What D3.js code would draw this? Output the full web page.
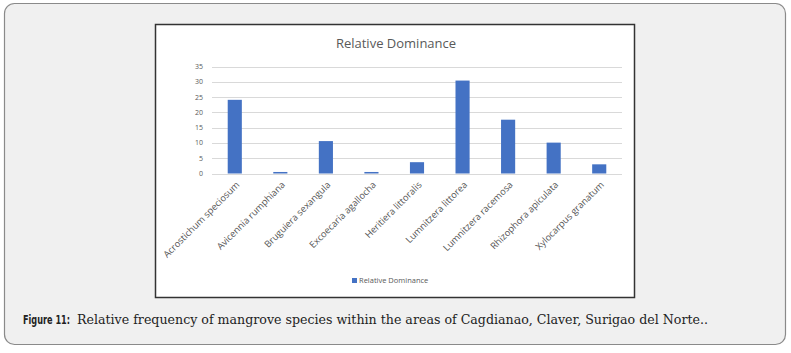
<!DOCTYPE html>
<html>
<head>
<meta charset="utf-8">
<script src="https://cdn.jsdelivr.net/npm/d3@7"></script>
<style>
  body { margin: 0; background: #fff; }
</style>
</head>
<body>
<script>
// chart data
var species = ["Acrostichum speciosum", "Avicennia rumphiana", "Bruguiera sexangula",
  "Excoecaria agallocha", "Heritiera littoralis", "Lumnitzera littorea",
  "Lumnitzera racemosa", "Rhizophora apiculata", "Xylocarpus granatum"];
var dominance = [24.1, 0.5, 10.6, 0.5, 3.7, 30.4, 17.6, 10.1, 3.0];
var yTicks = [0, 5, 10, 15, 20, 25, 30, 35];

var w = 791, h = 353;

var svg = d3.select("body").append("svg")
  .attr("width", w)
  .attr("height", h);

// outer panel
svg.append("rect")
  .attr("x", 4.5).attr("y", 3.5)
  .attr("width", 781).attr("height", 341)
  .attr("rx", 10).attr("ry", 10)
  .style("fill", "#f0f0f0")
  .style("stroke", "#8a8a8a")
  .style("stroke-width", 1.2);

// chart box
svg.append("rect")
  .attr("x", 155.5).attr("y", 24.5)
  .attr("width", 479).attr("height", 273)
  .style("fill", "#fff")
  .style("stroke", "#333")
  .style("stroke-width", 1.5);

svg.append("text")
  .attr("x", 396).attr("y", 48)
  .attr("text-anchor", "middle")
  .style("font-family", "Open Sans, sans-serif")
  .style("font-size", "13px")
  .style("fill", "#595959")
  .text("Relative Dominance");

var x = d3.scaleBand()
  .domain(species)
  .range([212, 622])
  .paddingInner(0.69)
  .paddingOuter(0.345);

var y = d3.scaleLinear()
  .domain([0, 35])
  .range([173.5, 66.5]);

// gridlines
svg.append("g").selectAll("line")
  .data(yTicks)
  .enter().append("line")
  .attr("x1", 212).attr("x2", 622)
  .attr("y1", function(d){ return Math.round(y(d)) + 0.5; })
  .attr("y2", function(d){ return Math.round(y(d)) + 0.5; })
  .style("stroke", "#d9d9d9")
  .style("stroke-width", 1);

// y tick labels
svg.append("g").selectAll("text")
  .data(yTicks)
  .enter().append("text")
  .attr("x", 203)
  .attr("y", function(d){ return y(d) + 2.5; })
  .attr("text-anchor", "end")
  .style("font-family", "Open Sans, sans-serif")
  .style("font-size", "7px")
  .style("fill", "#595959")
  .text(function(d){ return d; });

// bars
svg.append("g").selectAll("rect")
  .data(dominance)
  .enter().append("rect")
  .attr("x", function(d, i){ return x(species[i]); })
  .attr("width", x.bandwidth())
  .attr("y", function(d){ return y(d); })
  .attr("height", function(d){ return y(0) - y(d); })
  .style("fill", "#4472c4");

// category labels
svg.append("g").selectAll("text")
  .data(species)
  .enter().append("text")
  .attr("transform", function(d){
    return "translate(" + (x(d) + x.bandwidth() / 2 + 3) + ",183) rotate(-45)";
  })
  .attr("text-anchor", "end")
  .attr("dy", "0.35em")
  .style("font-family", "Open Sans, sans-serif")
  .style("font-size", "9.3px")
  .style("fill", "#555")
  .text(function(d){ return d; });

// legend
svg.append("rect")
  .attr("x", 352).attr("y", 278)
  .attr("width", 5).attr("height", 5)
  .style("fill", "#4472c4");
svg.append("text")
  .attr("x", 359).attr("y", 283)
  .style("font-family", "Open Sans, sans-serif")
  .style("font-size", "7.5px")
  .style("fill", "#595959")
  .text("Relative Dominance");

// caption: bold narrow label, then serif text
svg.append("text")
  .attr("x", 23).attr("y", 324)
  .attr("textLength", 47)
  .attr("lengthAdjust", "spacingAndGlyphs")
  .style("font-family", "Liberation Sans Narrow, DejaVu Sans Condensed, sans-serif")
  .style("font-weight", "bold")
  .style("font-size", "12px")
  .style("fill", "#222")
  .text("Figure 11:");
svg.append("text")
  .attr("x", 77).attr("y", 324)
  .attr("textLength", 631)
  .attr("lengthAdjust", "spacingAndGlyphs")
  .style("font-family", "DejaVu Serif, serif")
  .style("font-size", "12px")
  .style("fill", "#222")
  .text("Relative frequency of mangrove species within the areas of Cagdianao, Claver, Surigao del Norte..");
</script>
</body>
</html>
